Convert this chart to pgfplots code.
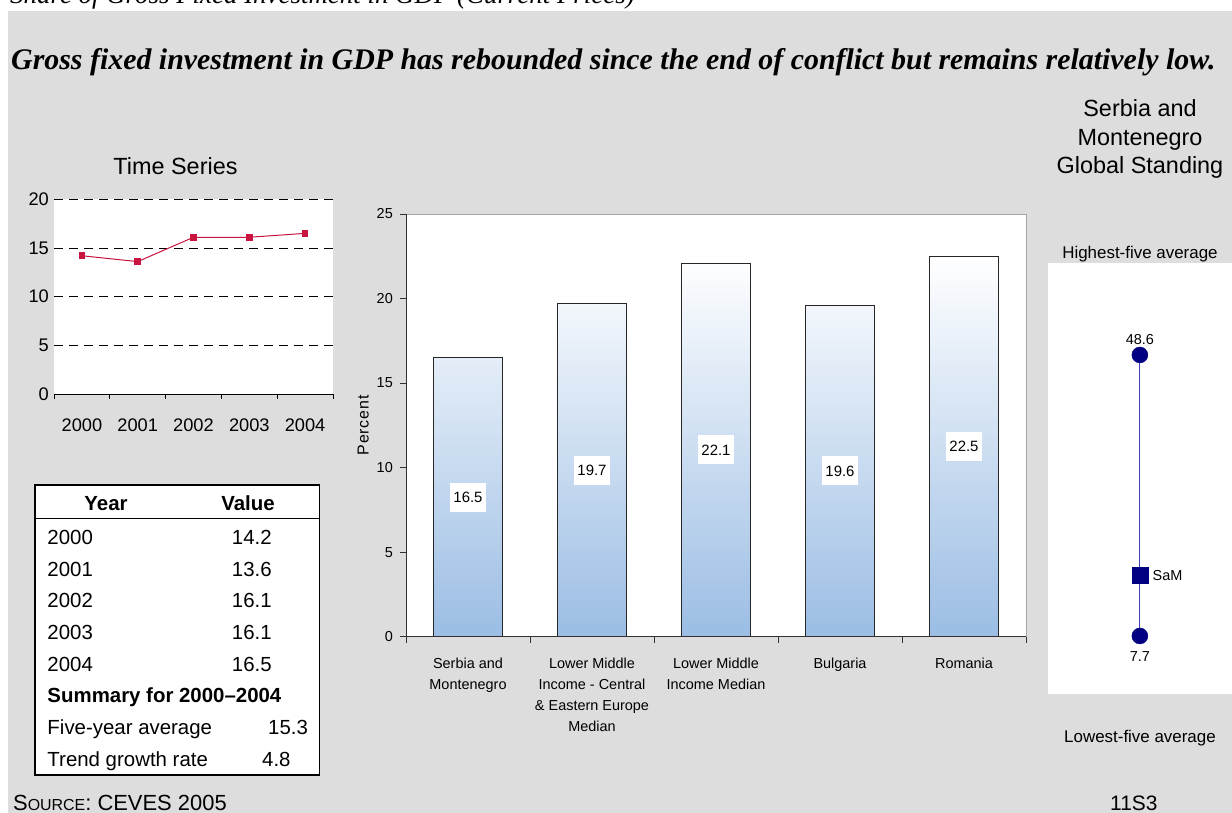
\documentclass[border=0pt]{standalone}
\usepackage{fontspec}
\setmainfont{Liberation Sans}
\newfontfamily\seriffont{Liberation Serif}
\usepackage{pgfplots}
\pgfplotsset{compat=1.18}
\pgfplotsset{/pgf/number format/assume math mode=true}

\definecolor{panelgray}{RGB}{221,221,221}
\definecolor{tsred}{RGB}{200,20,62}
\definecolor{barblue}{RGB}{155,189,228}
\definecolor{navymark}{RGB}{0,0,128}
\definecolor{stemblue}{RGB}{64,64,184}

\newcommand{\fs}[1]{\fontsize{#1}{#1}\selectfont}

\begin{document}
\begin{tikzpicture}
\begin{scope}[x=1bp,y=1bp]
\fill[white] (0,0) rectangle (1232,813);
\fill[panelgray] (8,0) rectangle (1232,802);

% headings
\node[anchor=base west, inner sep=0] at (10,809.5)
  {\fs{27}\seriffont\itshape Share of Gross Fixed Investment in GDP (Current Prices)};
\node[anchor=base west, inner sep=0] at (11,743)
  {\fs{30}\seriffont\bfseries\itshape Gross fixed investment in GDP has rebounded since the end of conflict but remains relatively low.};

\node[anchor=base, inner sep=0] at (175.5,638) {\fs{23.5}Time Series};

% summary table
\draw[black, line width=1.5bp, fill=white] (35,38) rectangle (319.3,328);
\draw[black, line width=1.5bp] (35,294.7) -- (319.3,294.7);
\begin{scope}[every node/.style={inner sep=0pt}]
\node[anchor=base] at (106,303) {\fs{20.5}\bfseries Year};
\node[anchor=base] at (248,303) {\fs{20.5}\bfseries Value};
\node[anchor=base west] at (47.3,269) {\fs{20.5}2000};
\node[anchor=base west] at (47.3,237) {\fs{20.5}2001};
\node[anchor=base west] at (47.3,205.3) {\fs{20.5}2002};
\node[anchor=base west] at (47.3,173.7) {\fs{20.5}2003};
\node[anchor=base west] at (47.3,142) {\fs{20.5}2004};
\node[anchor=base west] at (231.7,269) {\fs{20.5}14.2};
\node[anchor=base west] at (231.7,237) {\fs{20.5}13.6};
\node[anchor=base west] at (231.7,205.3) {\fs{20.5}16.1};
\node[anchor=base west] at (231.7,173.7) {\fs{20.5}16.1};
\node[anchor=base west] at (231.7,142) {\fs{20.5}16.5};
\node[anchor=base west] at (47.3,110.3) {\fs{20.5}\bfseries Summary for 2000--2004};
\node[anchor=base west] at (47.3,78.7) {\fs{20.5}Five-year average};
\node[anchor=base west] at (268,78.7) {\fs{20.5}15.3};
\node[anchor=base west] at (47.3,47) {\fs{20.5}Trend growth rate};
\node[anchor=base west] at (262,47) {\fs{20.5}4.8};
\end{scope}

% global standing panel
\node[align=center, anchor=base, inner sep=0, font=\fontsize{23.5}{28.3}\selectfont]
  at (1140,639.7) {Serbia and\\Montenegro\\Global Standing};
\node[anchor=base, inner sep=0] at (1140,554.7) {\fs{17}Highest-five average};
\node[anchor=base, inner sep=0] at (1140,70.3) {\fs{17}Lowest-five average};
\fill[white] (1047.7,118.7) rectangle (1232,550.3);

% footer
\node[anchor=base west, inner sep=0] at (13,2.5)
  {\fs{22}S{\fs{16}OURCE}: CEVES 2005};
\node[anchor=base west, inner sep=0] at (1110,2.5) {\fs{21}11S3};
\end{scope}

% ---------------- time series ----------------
\begin{axis}[at={(54bp,419bp)}, anchor=south west,
  width=279bp, height=194.7bp, scale only axis,
  xmin=0.5, xmax=5.5, ymin=0, ymax=20,
  axis x line*=bottom, axis y line*=left,
  axis line style={-},
  y axis line style={draw=none},
  x axis line style={black, line width=0.9bp},
  axis background/.style={fill=white},
  xtick={1,2,3,4,5},
  xticklabels={2000,2001,2002,2003,2004},
  minor xtick={0.5,1.5,2.5,3.5,4.5,5.5},
  xtick align=outside,
  major tick length=0pt, minor tick length=5bp,
  tick style={black, line width=0.8bp},
  ytick={0,5,10,15,20},
  ymajorgrids,
  grid style={black, line width=0.8bp, dash pattern=on 9bp off 6bp},
  tick label style={font=\fs{18.3}},
  yticklabel style={anchor=east, inner sep=0pt, xshift=-5bp},
  xticklabel style={anchor=base, inner sep=0pt, yshift=-38bp},
]
\addplot[tsred, line width=1bp, mark=square*, mark size=2.8bp]
  coordinates {(1,14.2) (2,13.6) (3,16.1) (4,16.1) (5,16.5)};
\end{axis}

% ---------------- comparison bars ----------------
\begin{axis}[at={(406bp,176.3bp)}, anchor=south west,
  width=620bp, height=422.7bp, scale only axis,
  xmin=0.5, xmax=5.5, ymin=0, ymax=25,
  axis background/.style={fill=white},
  axis line style={draw=black!35, line width=0.9bp},
  tick pos=left, tick align=outside,
  xtick={1,2,3,4,5},
  xticklabels={{Serbia and\\Montenegro},
    {Lower Middle\\Income - Central\\\& Eastern Europe\\Median},
    {Lower Middle\\Income Median},{Bulgaria},{Romania}},
  minor xtick={0.5,1.5,2.5,3.5,4.5,5.5},
  major x tick style={draw=none},
  major tick length=6bp, minor tick length=6bp,
  tick style={black!80, line width=0.8bp},
  ytick={0,5,10,15,20,25},
  yticklabel style={font=\fs{14.5}, anchor=east, inner sep=0pt, xshift=-7bp},
  xticklabel style={font=\fontsize{14.5}{21}\selectfont, align=center,
    anchor=north, inner sep=0pt, yshift=-15bp},
  ylabel={\addfontfeature{LetterSpace=5}Percent},
  ylabel style={font=\fs{16}, at={(axis description cs:-0.069,0.5)}, anchor=center},
  after end axis/.code={
    \draw[black!80, line width=1bp] (rel axis cs:0,1) -- (rel axis cs:0,0) -- (rel axis cs:1,0);
  },
]
\addplot[ybar, bar width=68.7bp, draw=black!85, line width=0.8bp,
  top color=white, middle color=barblue!40, bottom color=barblue,
  visualization depends on={y \as \rawy},
  nodes near coords,
  nodes near coords style={anchor=center, fill=white, text=black,
    font=\fs{15}, inner xsep=3bp, inner ysep=0pt, minimum height=29bp,
    shift={(axis direction cs:0,-0.5*\rawy)},
    /pgf/number format/fixed, /pgf/number format/precision=1,
    /pgf/number format/fixed zerofill},
] coordinates {(1,16.5) (2,19.7) (3,22.1) (4,19.6) (5,22.5)};
\end{axis}

% ---------------- global standing ----------------
\begin{axis}[at={(1047.7bp,118.7bp)}, anchor=south west,
  width=184.3bp, height=431.6bp, scale only axis,
  xmin=-1, xmax=1, ymin=-0.79, ymax=62.03,
  hide axis, clip=false]
\addplot[stemblue, line width=1.2bp] coordinates {(0,7.7) (0,48.6)};
\addplot[only marks, mark=*, mark size=8bp, navymark,
  nodes near coords,
  nodes near coords style={anchor=base, inner sep=0pt, yshift=10bp, text=black, font=\fs{14.5}},
  /pgf/number format/fixed, /pgf/number format/precision=1]
  coordinates {(0,48.6)};
\addplot[only marks, mark=*, mark size=8bp, navymark,
  nodes near coords,
  nodes near coords style={anchor=base, inner sep=0pt, yshift=-25.7bp, text=black, font=\fs{14.5}},
  /pgf/number format/fixed, /pgf/number format/precision=1]
  coordinates {(0,7.7)};
\addplot[only marks, mark=square*, mark size=8bp, navymark,
  nodes near coords={SaM},
  nodes near coords style={anchor=west, inner sep=0pt, xshift=12.6bp, text=black, font=\fs{14.5}}]
  coordinates {(0,16.5)};
\end{axis}

% page frame
\pgfresetboundingbox
\useasboundingbox (0,0) rectangle (1232bp,813bp);
\end{tikzpicture}
\end{document}
